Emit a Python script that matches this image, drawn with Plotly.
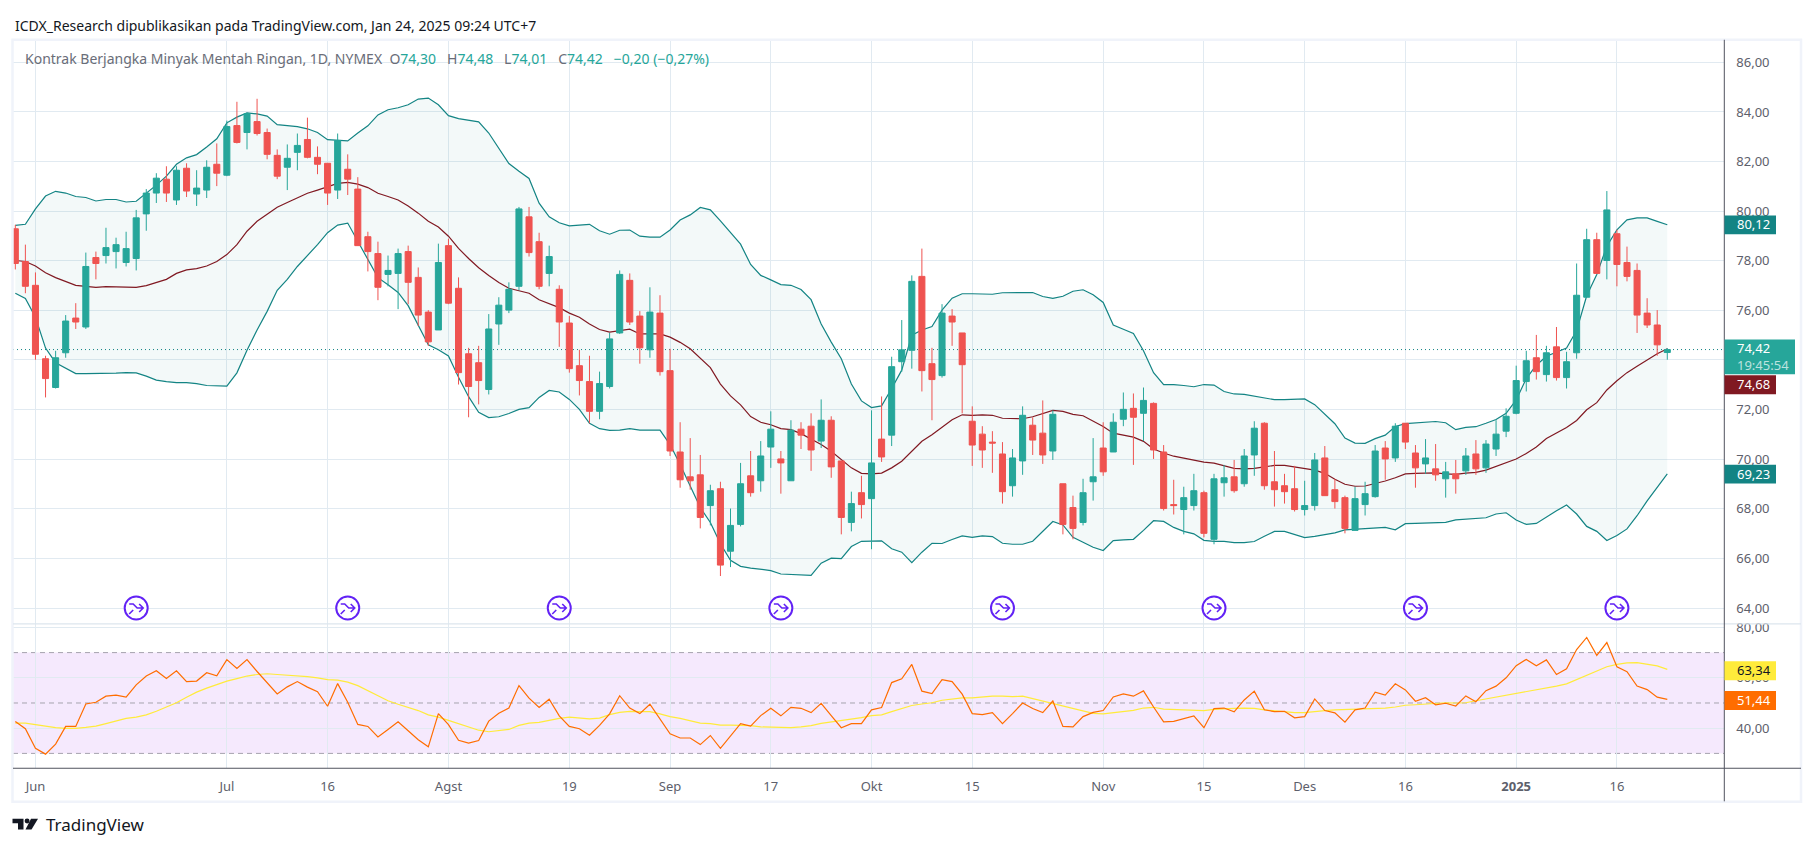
import plotly.graph_objects as go

# --- daily candles (index 0 = last days of May 2024) ---
opens = [
    79.29,77.97,77.01,74.05,72.89,74.29,75.69,75.33,78.13,78.21,
    78.37,77.93,78.09,79.89,80.73,81.29,80.45,81.73,80.69,80.85,
    81.89,81.45,83.45,83.17,83.61,83.17,82.25,81.77,82.37,82.89,
    82.17,81.93,80.85,81.69,80.89,78.97,78.29,77.45,77.49,78.37,
    77.33,75.93,75.21,78.61,76.89,74.25,73.89,72.81,75.45,76.01,
    76.97,79.77,78.77,77.49,76.85,75.49,73.77,73.13,71.93,72.93,
    75.09,77.21,75.77,74.41,75.89,73.57,70.29,69.29,69.37,68.13,
    68.81,66.29,67.37,69.33,69.13,70.49,70.01,69.13,71.21,71.33,
    70.73,71.57,69.93,67.45,68.65,68.41,70.81,70.97,73.93,74.39,
    77.37,73.85,73.37,75.77,75.09,71.53,71.01,70.69,70.21,68.93,
    69.93,71.37,71.05,70.33,69.01,68.05,67.45,69.09,70.45,70.29,
    71.61,72.05,71.85,72.25,70.29,68.17,67.97,68.13,68.65,66.77,
    69.05,69.29,69.01,70.17,71.45,69.09,68.93,68.81,67.97,68.13,
    70.05,68.77,68.45,67.13,68.17,68.49,70.45,70.05,71.45,70.25,
    69.81,69.61,69.21,69.41,69.53,70.21,69.65,70.41,71.13,71.85,
    73.13,74.09,73.41,74.53,73.29,74.29,76.53,78.85,78.01,79.09,
    77.93,77.61,75.89,75.41,74.30,
]
highs = [
    79.45,78.65,77.53,74.17,74.37,75.81,76.29,78.33,78.37,79.33,
    78.93,79.17,80.05,80.89,81.53,81.81,81.81,81.93,81.65,82.05,
    82.73,83.65,84.41,83.97,84.53,83.33,82.49,82.69,83.13,83.77,
    82.61,81.93,83.13,82.29,81.37,79.17,78.77,78.21,78.49,78.61,
    77.73,76.01,78.69,78.89,77.33,74.49,74.57,75.85,76.53,77.13,
    80.17,80.17,79.13,78.61,77.01,75.77,74.41,74.17,73.53,75.09,
    77.61,77.49,75.97,76.93,76.61,74.45,71.49,70.85,70.17,68.97,
    69.09,68.01,69.85,70.33,70.73,71.93,70.33,71.57,71.49,71.85,
    72.41,71.73,69.93,68.69,69.33,71.97,72.53,74.13,75.61,77.41,
    78.49,74.49,76.25,76.05,75.09,72.13,71.33,71.13,70.69,70.41,
    72.13,71.69,72.37,71.97,69.01,68.53,69.21,70.85,71.49,71.85,
    72.69,72.65,72.89,72.29,70.57,69.17,68.89,69.41,68.73,69.41,
    69.77,69.97,70.41,71.53,71.49,70.33,69.41,69.73,69.13,70.25,
    70.53,69.21,68.53,68.89,69.09,70.57,70.73,71.45,71.45,70.57,
    70.81,70.61,69.89,69.97,70.45,70.77,70.77,71.57,72.05,73.77,
    74.37,75.01,74.57,75.33,74.33,77.89,79.29,79.13,80.81,79.25,
    78.57,77.89,76.49,76.01,74.48,
]
lows = [
    77.65,76.69,74.01,72.49,72.85,74.09,75.25,75.25,77.25,77.89,
    77.69,77.77,77.61,79.21,80.33,80.37,80.25,80.57,80.21,80.53,
    81.01,81.41,82.73,82.49,83.05,82.09,81.29,80.85,81.65,82.13,
    81.49,80.25,80.49,80.65,78.61,77.57,76.41,76.97,76.05,76.25,
    75.37,74.57,75.21,76.25,73.01,71.69,72.21,72.61,74.61,75.89,
    76.81,78.17,76.85,76.97,74.53,73.49,72.57,71.45,71.61,72.85,
    75.05,75.41,73.85,74.09,73.37,70.13,68.85,68.77,67.21,67.33,
    65.29,65.65,67.29,68.49,68.69,69.65,68.61,69.13,70.41,69.53,
    70.45,69.25,66.97,67.09,67.61,66.37,69.89,70.53,73.52,73.65,
    72.73,71.57,73.29,74.57,71.85,69.73,69.65,69.45,68.21,68.49,
    69.37,70.17,69.81,69.97,66.97,66.77,67.33,68.33,69.33,70.29,
    71.33,69.77,70.73,70.01,67.93,67.77,66.97,67.93,66.85,66.57,
    68.49,68.65,68.89,69.33,68.77,68.09,68.21,67.89,67.73,67.93,
    68.53,68.01,67.01,67.13,67.73,68.45,69.17,69.89,70.41,68.85,
    69.41,69.13,68.45,68.61,69.37,69.37,69.45,70.13,70.89,71.81,
    72.73,73.21,73.13,73.17,72.85,74.05,76.53,77.49,77.25,76.97,
    77.17,75.09,75.29,74.17,74.01,
]
closes = [
    77.89,76.97,74.23,73.25,74.09,75.57,75.53,77.77,77.89,78.53,
    78.65,78.49,79.73,80.73,81.33,80.73,81.65,80.81,80.93,81.77,
    81.53,83.41,82.77,83.93,83.13,82.29,81.41,82.13,82.65,82.17,
    81.89,80.73,82.85,81.29,78.61,78.37,76.93,77.61,78.29,77.13,
    75.81,74.73,77.93,76.29,73.49,72.93,73.17,75.25,76.21,76.85,
    80.09,78.33,76.97,78.17,75.53,73.65,73.17,71.93,73.05,74.85,
    77.45,75.53,74.49,75.93,73.53,70.33,69.17,69.13,67.65,68.73,
    65.73,67.33,69.01,68.65,70.13,71.21,69.85,71.17,70.97,70.37,
    71.57,69.69,67.65,68.21,68.17,69.85,70.09,73.73,74.41,77.17,
    73.57,73.21,75.89,75.53,73.81,70.57,70.37,70.65,68.69,70.05,
    71.77,70.77,70.17,71.81,67.37,67.21,68.65,69.29,69.49,71.49,
    72.01,71.69,72.37,70.37,68.01,68.13,68.45,68.73,67.01,69.21,
    69.25,68.73,70.13,71.25,68.93,68.77,68.69,67.97,68.13,69.97,
    68.53,68.29,67.21,68.41,68.61,70.33,70.01,71.33,70.69,69.65,
    70.05,69.37,69.49,69.21,70.13,69.61,70.61,71.01,71.73,73.17,
    73.97,73.53,74.29,73.29,73.93,76.61,78.85,77.49,80.05,77.85,
    77.37,75.81,75.41,74.61,74.42,
]

# --- Bollinger bands ---
bb_upper = [
    79.43,79.47,80.09,80.61,80.80,80.73,80.59,80.55,80.41,80.47,
    80.47,80.37,80.40,80.71,81.05,81.41,81.89,82.15,82.28,82.59,
    82.92,83.56,83.79,83.96,83.92,83.83,83.49,83.45,83.41,83.32,
    83.17,82.88,82.85,82.83,83.15,83.44,83.88,84.09,84.17,84.29,
    84.52,84.56,84.29,83.85,83.73,83.68,83.60,83.15,82.54,81.92,
    81.61,81.32,80.32,79.77,79.53,79.41,79.44,79.47,79.21,79.07,
    79.23,79.24,78.99,78.95,78.95,79.24,79.64,79.85,80.15,80.05,
    79.61,79.15,78.67,77.85,77.41,77.23,77.04,77.01,76.84,76.43,
    75.45,74.72,74.05,73.03,72.35,72.08,72.15,72.85,73.59,75.00,
    75.21,75.35,76.01,76.49,76.67,76.67,76.65,76.65,76.71,76.71,
    76.71,76.72,76.56,76.48,76.57,76.77,76.83,76.63,76.32,75.41,
    75.24,75.07,74.37,73.49,73.01,73.01,72.97,72.92,73.01,72.99,
    72.73,72.63,72.61,72.53,72.48,72.40,72.40,72.43,72.43,72.20,
    71.83,71.43,70.85,70.65,70.64,70.83,70.97,71.32,71.43,71.47,
    71.51,71.52,71.47,71.19,71.28,71.31,71.45,71.60,71.85,72.39,
    73.25,73.79,74.15,74.32,74.48,75.19,76.59,77.45,78.59,79.25,
    79.65,79.73,79.73,79.59,79.45,
]
bb_basis = [
    78.01,77.97,77.79,77.52,77.32,77.16,77.01,76.97,76.93,76.96,
    76.96,76.93,76.93,77.00,77.12,77.25,77.49,77.63,77.68,77.79,
    77.97,78.25,78.65,79.19,79.59,79.88,80.16,80.35,80.55,80.72,
    80.85,80.97,81.12,81.16,81.09,80.95,80.72,80.59,80.45,80.21,
    79.92,79.59,79.36,78.99,78.50,78.09,77.72,77.41,77.12,76.89,
    76.79,76.69,76.43,76.27,76.11,75.89,75.72,75.45,75.23,75.12,
    75.19,75.24,75.05,75.04,75.05,74.92,74.71,74.45,74.05,73.69,
    73.03,72.55,72.19,71.72,71.49,71.39,71.23,71.19,71.03,70.81,
    70.59,70.32,69.99,69.65,69.43,69.41,69.44,69.65,69.92,70.32,
    70.72,70.99,71.29,71.59,71.79,71.77,71.79,71.77,71.65,71.63,
    71.63,71.71,71.83,71.97,71.93,71.81,71.75,71.52,71.32,71.05,
    70.96,70.89,70.72,70.41,70.25,70.12,70.04,69.96,69.88,69.84,
    69.73,69.63,69.61,69.63,69.69,69.75,69.75,69.69,69.63,69.56,
    69.43,69.19,68.99,68.91,68.92,69.01,69.12,69.25,69.41,69.43,
    69.45,69.45,69.41,69.39,69.44,69.47,69.56,69.72,69.88,70.01,
    70.23,70.49,70.83,71.05,71.28,71.56,71.99,72.28,72.79,73.16,
    73.49,73.75,73.99,74.25,74.45,
]
bb_lower = [
    76.69,76.48,75.72,74.48,73.89,73.68,73.45,73.45,73.45,73.47,
    73.47,73.49,73.48,73.35,73.19,73.13,73.09,73.09,73.05,72.97,
    72.97,72.95,73.48,74.39,75.21,75.96,76.81,77.25,77.77,78.19,
    78.65,79.13,79.44,79.52,78.79,78.05,77.32,77.03,76.72,76.19,
    75.39,74.61,74.41,74.16,73.30,72.52,71.89,71.68,71.71,71.84,
    72.01,72.08,72.49,72.77,72.71,72.41,72.01,71.45,71.23,71.16,
    71.17,71.23,71.17,71.17,71.17,70.59,69.79,68.92,68.05,67.45,
    66.59,65.92,65.68,65.61,65.55,65.51,65.37,65.35,65.32,65.32,
    65.81,66.01,65.99,66.48,66.69,66.69,66.71,66.39,66.25,65.83,
    66.25,66.61,66.60,66.76,66.91,66.85,66.91,66.88,66.61,66.57,
    66.57,66.69,67.09,67.49,67.35,66.85,66.65,66.45,66.32,66.72,
    66.75,66.77,67.13,67.52,67.49,67.25,67.09,66.99,66.73,66.69,
    66.69,66.64,66.64,66.68,66.89,67.09,67.09,66.96,66.84,66.89,
    66.95,67.03,67.15,67.17,67.21,67.23,67.25,67.15,67.40,67.41,
    67.43,67.45,67.45,67.55,67.57,67.60,67.64,67.79,67.84,67.55,
    67.37,67.41,67.68,67.92,68.15,67.79,67.29,67.09,66.72,66.92,
    67.19,67.72,68.32,68.89,69.41,
]

# --- RSI pane ---
rsi = [
    42.7,39.8,32.0,29.7,33.7,40.7,40.7,49.6,50.3,52.7,
    53.1,52.3,57.2,60.7,62.8,59.7,62.8,58.5,58.7,62.0,
    60.8,67.2,63.7,67.2,62.5,57.9,53.6,56.4,58.5,56.3,
    54.5,48.7,57.7,50.3,41.5,40.7,36.5,39.5,42.5,39.0,
    35.4,32.6,45.8,41.4,35.2,34.1,35.1,42.8,45.9,48.0,
    56.9,51.9,48.2,51.5,44.9,40.7,39.8,37.2,41.1,45.7,
    52.9,48.0,45.8,49.5,43.7,37.8,36.1,36.1,33.5,37.1,
    32.0,36.8,41.8,40.8,45.0,47.9,44.9,48.3,47.9,46.2,
    49.9,45.0,40.2,41.8,41.8,47.3,48.2,58.1,59.6,65.3,
    54.7,53.7,59.3,58.5,53.5,45.8,45.4,46.2,41.8,45.8,
    50.0,47.8,46.2,50.8,40.7,40.5,44.6,46.3,47.0,52.4,
    53.6,52.7,54.8,48.4,42.5,42.7,43.9,44.9,40.2,47.8,
    48.0,46.5,51.2,54.7,47.3,46.6,46.7,44.1,44.6,51.6,
    47.0,46.1,42.4,47.3,48.0,54.3,53.1,57.6,55.2,50.7,
    52.1,49.3,49.9,48.8,52.8,50.5,54.9,56.7,60.0,64.8,
    67.3,64.8,67.1,61.3,63.6,71.2,76.0,68.9,74.0,64.4,
    62.4,56.7,55.3,52.3,51.44,
]
rsi_ma = [
    42.0,42.0,41.4,40.7,40.2,39.9,39.9,40.3,40.8,41.8,
    42.9,43.9,44.4,45.3,46.7,48.3,50.1,52.3,54.3,55.9,
    57.3,58.7,59.7,60.7,61.3,61.6,61.3,61.1,60.8,60.5,
    60.0,59.3,59.1,58.3,56.9,54.9,52.9,50.9,49.5,48.3,
    47.0,45.3,44.4,43.1,41.8,40.7,39.2,38.6,39.0,39.5,
    41.1,42.0,42.3,43.2,43.9,44.4,43.9,43.7,44.0,45.4,
    46.3,46.7,46.6,46.6,45.7,44.6,43.9,42.9,42.0,41.8,
    41.2,41.2,41.2,41.0,40.5,40.3,40.2,40.2,40.5,41.0,
    41.9,42.5,43.1,43.5,44.2,45.0,45.3,46.6,47.8,49.0,
    49.6,50.1,51.1,51.7,52.0,52.0,52.4,52.7,52.7,52.5,
    52.7,51.7,50.7,49.7,48.7,47.9,46.9,45.9,45.7,46.2,
    46.7,47.1,48.0,48.3,47.6,47.4,47.3,47.0,47.0,47.5,
    47.8,47.9,48.0,47.9,47.3,46.9,46.7,46.2,46.2,46.7,
    47.0,47.3,47.4,47.4,47.6,47.9,48.0,48.4,49.1,49.3,
    49.6,50.0,50.1,50.0,50.1,50.9,51.6,52.3,53.1,53.9,
    54.7,55.2,56.0,56.7,57.6,59.3,61.3,62.9,64.4,65.3,
    65.9,66.0,65.5,64.7,63.34,
]

tick_idx = [2, 21, 31, 43, 55, 65, 75, 85, 95, 108, 118, 128, 138, 149, 159]
tick_labels = ["Jun", "Jul", "16", "Agst", "19", "Sep", "17", "Okt", "15", "Nov",
               "15", "Des", "16", "<b>2025</b>", "16"]
price_ticks = [64, 66, 68, 70, 72, 74, 76, 78, 80, 82, 84, 86]
# 74,00 sits behind the last-price tag in the original
price_tick_labels = ["64,00", "66,00", "68,00", "70,00", "72,00", "", "76,00", "78,00",
                     "80,00", "82,00", "84,00", "86,00"]
rsi_ticks = [40, 60, 80]
rsi_levels = [70, 50, 30]
dividend_idx = [12, 33, 54, 76, 98, 119, 139, 159]
dividend_level = [64] * len(dividend_idx)

W, H = 1814, 846
FONT = "Noto Sans"
GREEN, RED = "#26A69A", "#EF5350"
TEAL, BASIS = "#138484", "#801922"
GRID = "#E1EAF1"
FRAME = "#F0F3FA"
AXIS = "#50535E"
TEXT = "#5D606B"
PURPLE = "#6222F5"


def px(x):
    return x / W


def py(y):
    return 1 - y / H


x_idx = list(range(len(closes)))
x_range = [-0.23, 169.66]
price_range = [63.36, 86.91]
rsi_range = [24.1, 81.2]

fig = go.Figure()

# bands sit under the candles, so candles go on an overlaying axis
fig.add_trace(go.Scatter(x=x_idx, y=bb_upper, mode="lines", line=dict(color=TEAL, width=1.2)))
fig.add_trace(go.Scatter(x=x_idx, y=bb_lower, mode="lines", line=dict(color=TEAL, width=1.2),
                         fill="tonexty", fillcolor="rgba(19,132,132,0.05)"))
fig.add_trace(go.Scatter(x=x_idx, y=bb_basis, mode="lines", line=dict(color=BASIS, width=1.2)))
fig.add_trace(go.Scatter(x=x_range, y=[closes[-1], closes[-1]], mode="lines",
                         line=dict(color=TEAL, width=1, dash="1px,3px")))
fig.add_trace(go.Scatter(x=dividend_idx, y=dividend_level, mode="markers",
                         marker=dict(symbol="circle", size=23, color="white",
                                     line=dict(color=PURPLE, width=2))))
fig.add_trace(go.Candlestick(
    x=x_idx, open=opens, high=highs, low=lows, close=closes, yaxis="y3", whiskerwidth=0,
    increasing=dict(line=dict(color=GREEN, width=1), fillcolor=GREEN),
    decreasing=dict(line=dict(color=RED, width=1), fillcolor=RED),
))
fig.add_trace(go.Scatter(x=x_idx, y=rsi_ma, yaxis="y2", mode="lines", line=dict(color="#FFEB3B", width=1.2)))
fig.add_trace(go.Scatter(x=x_idx, y=rsi, yaxis="y2", mode="lines", line=dict(color="#FF6D00", width=1.2)))

shapes = []
# RSI background and level lines
shapes.append(dict(type="rect", xref="x", yref="y2", x0=x_range[0], x1=x_range[1],
                   y0=rsi_levels[2], y1=rsi_levels[0], line_width=0,
                   fillcolor="rgba(155,39,240,0.1)", layer="below"))
for lvl in rsi_levels:
    shapes.append(dict(type="line", xref="x", yref="y2", x0=x_range[0], x1=x_range[1],
                       y0=lvl, y1=lvl, line=dict(color="#A5A3AE", width=1, dash="5px,4px"), layer="below"))
# frame and pane separators
shapes.append(dict(type="rect", xref="paper", yref="paper", x0=px(12.5), x1=px(1801), y0=py(34), y1=py(801.5),
                   line=dict(color=FRAME, width=2.5)))
shapes.append(dict(type="line", xref="paper", yref="paper", x0=px(13), x1=px(1801), y0=py(622.3), y1=py(622.3),
                   line=dict(color="#DDE6EE", width=1.2)))
shapes.append(dict(type="line", xref="paper", yref="paper", x0=px(13), x1=px(1801), y0=py(767.7), y1=py(767.7),
                   line=dict(color=AXIS, width=1)))
shapes.append(dict(type="line", xref="paper", yref="paper", x0=px(1724.3), x1=px(1724.3), y0=py(34), y1=py(801),
                   line=dict(color=AXIS, width=1)))

# arrow glyph inside the dividend circles
for d in dividend_idx:
    shapes.append(dict(type="path", xref="x", yref="y", xsizemode="pixel", ysizemode="pixel",
                       xanchor=d, yanchor=dividend_level[0],
                       path="M -7 4 L -3 4 L 1 0 L 7 0 M 3 4 L 7 0 L 3 -4 M -7 -6 L -3 -2",
                       line=dict(color=PURPLE, width=1.6)))

# TradingView logo mark
def logo_path(points):
    return "M " + " L ".join(f"{px(a)} {py(b)}" for a, b in points) + " Z"


for pts in [
    [(12.5, 818.5), (23.5, 818.5), (23.5, 829.5), (18, 829.5), (18, 823), (12.5, 823)],
    [(31, 818.5), (38, 818.5), (31.5, 829.5), (25.5, 829.5)],
]:
    shapes.append(dict(type="path", xref="paper", yref="paper", path=logo_path(pts),
                       fillcolor="#131722", line_width=0))
shapes.append(dict(type="circle", xref="paper", yref="paper", x0=px(24.6), x1=px(29.6), y0=py(823.3), y1=py(818.3),
                   fillcolor="#131722", line_width=0))

# right-hand value labels: (top, bottom, right edge, colour)
label_boxes = [
    (211, 230, 1776, TEAL),
    (336, 371, 1795, GREEN),
    (372, 391, 1776, BASIS),
    (462, 481, 1776, TEAL),
    (660, 679, 1776, "#FFEB3B"),
    (690, 709, 1776, "#FF6D00"),
]
for top, bottom, right, colour in label_boxes:
    shapes.append(dict(type="rect", xref="paper", yref="paper", x0=px(1724.5), x1=px(right),
                       y0=py(bottom), y1=py(top), fillcolor=colour, line_width=0))


def label(x, y, text, color, size=13, anchor="left", **kw):
    return dict(xref="paper", yref="paper", x=px(x), y=py(y), text=text, showarrow=False, xanchor=anchor,
                yanchor="middle", align="left", font=dict(family=FONT, size=size, color=color), **kw)


gap = "\u00a0\u00a0\u00a0"
legend_text = (
    "Kontrak Berjangka Minyak Mentah Ringan, 1D, NYMEX\u00a0\u00a0"
    f"O<span style='color:{GREEN}'>74,30</span>{gap}"
    f"H<span style='color:{GREEN}'>74,48</span>{gap}"
    f"L<span style='color:{GREEN}'>74,01</span>{gap}"
    f"C<span style='color:{GREEN}'>74,42</span>{gap}"
    f"<span style='color:{GREEN}'>−0,20 (−0,27%)</span>"
)

annotations = [
    label(13, 20, "ICDX_Research dipublikasikan pada TradingView.com, Jan 24, 2025 09:24 UTC+7", "#131722", 14),
    label(23, 53, legend_text, "#6A6D78", 14),
    label(44, 824, "TradingView", "#131722", 17),
    label(1735, 220, "80,12", "white"),
    label(1735, 353.5, "74,42<br><span style='color:rgba(255,255,255,0.7)'>19:45:54</span>", "white"),
    label(1735, 381, "74,68", "white"),
    label(1735, 471, "69,23", "white"),
    label(1735, 669, "63,34", "#131722"),
    label(1735, 699, "51,44", "white"),
]

axis_font = dict(family=FONT, size=13, color=TEXT)
fig.update_layout(
    width=W, height=H, margin=dict(l=0, r=0, t=0, b=0), paper_bgcolor="white", plot_bgcolor="white",
    showlegend=False, separators=",.", hovermode=False, shapes=shapes, annotations=annotations,
    boxgap=0.4, boxgroupgap=0,
    xaxis=dict(domain=[px(13), px(1724.3)], range=x_range, anchor="y2", tickmode="array",
               tickvals=tick_idx, ticktext=tick_labels, showgrid=True, gridcolor=GRID, gridwidth=1,
               zeroline=False, ticks="", tickfont=axis_font, ticklabelstandoff=9,
               rangeslider=dict(visible=False)),
    yaxis=dict(domain=[py(622.3), py(34)], range=price_range, side="right", tickmode="array",
               tickvals=price_ticks, ticktext=price_tick_labels, showgrid=True, gridcolor=GRID, zeroline=False,
               ticks="", tickfont=axis_font, ticklabelstandoff=11),
    yaxis2=dict(domain=[py(767.7), py(622.8)], range=rsi_range, side="right", tickmode="array",
                tickvals=rsi_ticks, tickformat=".2f", showgrid=True, gridcolor=GRID, zeroline=False,
                ticks="", tickfont=axis_font, ticklabelstandoff=11),
    yaxis3=dict(range=price_range, overlaying="y", side="right", visible=False),
)

fig.write_html("out.html", config={"displayModeBar": False}, post_script="document.body.style.margin='0';")
